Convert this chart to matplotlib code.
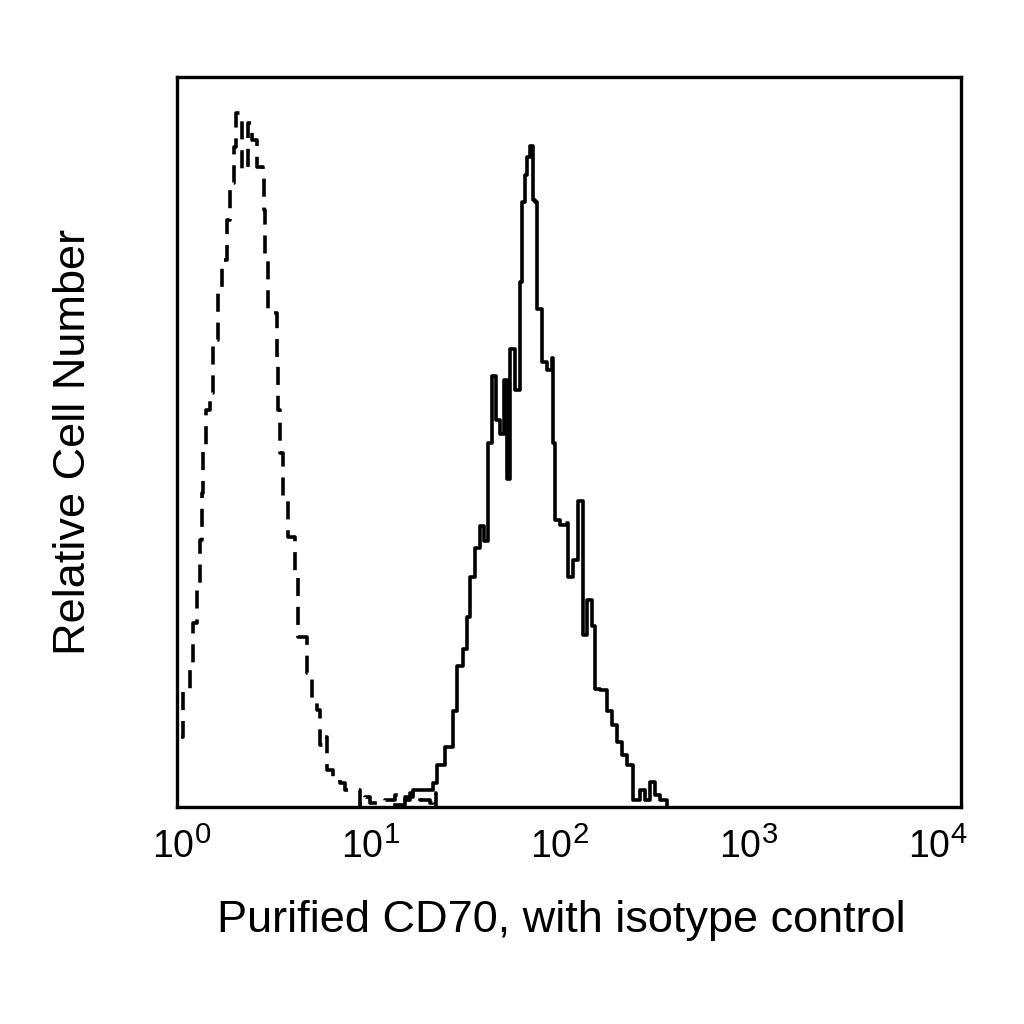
import numpy as np
import matplotlib
matplotlib.use("Agg")
import matplotlib.pyplot as plt
import matplotlib._mathtext as mathtext_internals

plt.rcParams['font.family'] = ['Liberation Sans', 'DejaVu Sans']
plt.rcParams['mathtext.fontset'] = 'custom'
plt.rcParams['mathtext.rm'] = 'Liberation Sans'
plt.rcParams['mathtext.it'] = 'Liberation Sans'
plt.rcParams['mathtext.default'] = 'regular'
# the exponents in the original are a bit larger than mathtext's default
mathtext_internals.SHRINK_FACTOR = 0.78

# isotype control (dashed): log10 intensity, relative count
iso_log = [-0.006, 0.006, 0.042, 0.059, 0.079, 0.095, 0.106, 0.111, 0.127, 0.148,
           0.164, 0.190, 0.212, 0.238, 0.254, 0.275, 0.286, 0.306, 0.318, 0.349,
           0.371, 0.397, 0.429, 0.434, 0.439, 0.455, 0.482, 0.502, 0.508, 0.519,
           0.535, 0.560, 0.598, 0.613, 0.661, 0.688, 0.714, 0.731, 0.746, 0.767,
           0.799, 0.836, 0.862, 0.942, 0.968, 0.995, 1.074, 1.127, 1.154, 1.207,
           1.259, 1.312, 1.328, 1.342]
iso_cnt = [9.6, 16.0, 19.7, 25.2, 30.1, 36.6, 43.0, 48.9, 54.4, 56.7,
           64.0, 70.4, 74.9, 80.4, 85.5, 90.4, 95.1, 94.4, 87.3, 93.7,
           91.4, 87.7, 86.3, 81.8, 74.9, 68.1, 67.7, 61.2, 54.4, 48.5,
           42.1, 37.0, 31.5, 23.3, 18.4, 14.7, 13.3, 8.5, 9.6, 5.1,
           4.0, 3.3, 2.3, 0.3, 1.4, 0.5, 1.0, 1.6, 1.0, 1.9,
           1.0, 0.5, 1.9, 0.0]

# CD70 stained (solid)
cd70_log = [1.127, 1.180, 1.222, 1.328, 1.350, 1.391, 1.434, 1.455, 1.487, 1.508,
            1.524, 1.550, 1.577, 1.597, 1.619, 1.640, 1.662, 1.682, 1.703, 1.720,
            1.735, 1.761, 1.788, 1.799, 1.815, 1.826, 1.841, 1.857, 1.868, 1.878,
            1.904, 1.931, 1.957, 1.962, 1.974, 2.000, 2.037, 2.042, 2.068, 2.095,
            2.121, 2.143, 2.169, 2.185, 2.211, 2.249, 2.275, 2.302, 2.328, 2.354,
            2.387, 2.423, 2.450, 2.476, 2.503, 2.529, 2.566]
cd70_cnt = [0.3, 1.4, 2.3, 3.3, 5.8, 8.2, 13.2, 19.3, 21.6, 26.0,
            31.5, 35.5, 38.5, 36.4, 49.9, 59.0, 53.0, 51.1, 58.5, 44.9,
            62.7, 57.1, 71.9, 82.9, 86.6, 89.0, 90.5, 83.2, 82.9, 68.2,
            61.0, 59.9, 61.5, 49.9, 39.3, 38.6, 38.9, 31.5, 33.8, 41.9,
            23.6, 28.4, 24.8, 16.2, 16.0, 13.2, 11.2, 8.9, 7.1, 5.8,
            1.0, 2.3, 1.0, 3.4, 1.6, 1.0, 0.3]

tick_vals = [1, 10, 100, 1000, 10000]
tick_labels = ['$10^{0}$', '$10^{1}$', '$10^{2}$', '$10^{3}$', '$10^{4}$']

fig = plt.figure(figsize=(10.24, 10.24), dpi=100)
ax = fig.add_axes([177/1024, 1 - 807/1024, 784/1024, 730/1024])

ax.step(10 ** np.array(iso_log), iso_cnt, where='post', color='black',
        lw=2.6, dashes=(5, 3))
ax.step(10 ** np.array(cd70_log), cd70_cnt, where='post', color='black', lw=2.6)

ax.set_xscale('log')
ax.set_xlim(10 ** -0.0265, 10 ** 4.122)
ax.set_ylim(0, 100)
ax.set_xticks(tick_vals)
ax.set_xticklabels(tick_labels)
ax.xaxis.set_minor_locator(matplotlib.ticker.NullLocator())
ax.set_yticks([])
ax.tick_params(axis='x', length=0, pad=14, labelsize=27)

for s in ax.spines.values():
    s.set_linewidth(2.4)

ax.set_xlabel('Purified CD70, with isotype control', fontsize=32.5, labelpad=24)
ax.xaxis.label.set_x(0.49)
ax.set_ylabel('Relative Cell Number', fontsize=32.5, labelpad=60)

fig.savefig('out.png', dpi=100)
